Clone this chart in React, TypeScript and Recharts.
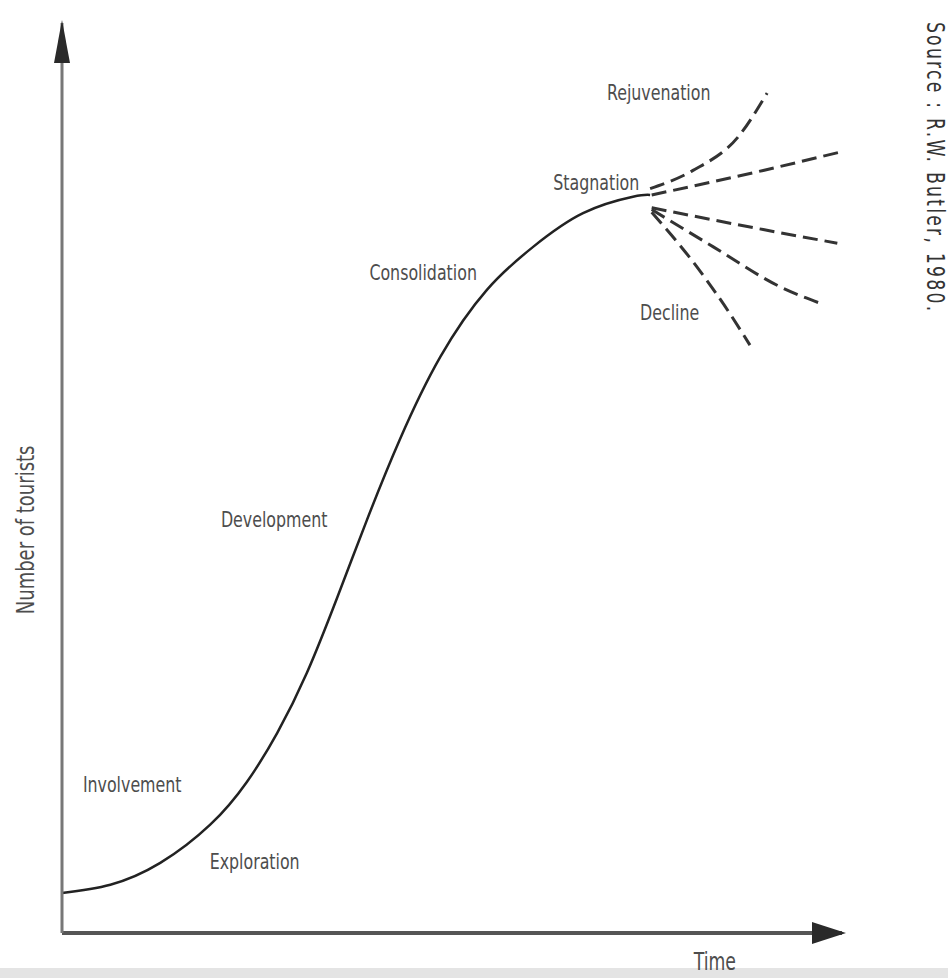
import React from "react";
import { LineChart, Line, XAxis, YAxis, ReferenceDot } from "recharts";

// Butler tourist area life cycle (time 0-100, tourists 0-100)
const mainCurve = [
  { t: 0, n: 4.4 },
  { t: 6.2, n: 5.3 },
  { t: 12.6, n: 7.7 },
  { t: 19.0, n: 11.9 },
  { t: 23.7, n: 16.6 },
  { t: 27.6, n: 22.0 },
  { t: 31.4, n: 28.6 },
  { t: 35.3, n: 36.9 },
  { t: 39.1, n: 45.4 },
  { t: 43.3, n: 54.2 },
  { t: 48.5, n: 63.3 },
  { t: 54.5, n: 70.7 },
  { t: 60.4, n: 75.4 },
  { t: 66.8, n: 79.1 },
  { t: 73.2, n: 80.9 },
  { t: 75.4, n: 81.1 },
];

const rejuvenation = [
  { t: 75.4, n: 81.8 },
  { t: 80.9, n: 83.8 },
  { t: 86.7, n: 87.5 },
  { t: 90.4, n: 92.3 },
];
const growthOn = [
  { t: 75.6, n: 81.1 },
  { t: 89.9, n: 83.8 },
  { t: 99.7, n: 85.8 },
];
const slightDecline = [
  { t: 75.6, n: 79.7 },
  { t: 89.9, n: 77.3 },
  { t: 99.4, n: 75.8 },
];
const decline = [
  { t: 75.6, n: 79.5 },
  { t: 83.5, n: 75.4 },
  { t: 92.1, n: 71.0 },
  { t: 97.2, n: 69.2 },
];
const steepDecline = [
  { t: 75.6, n: 79.2 },
  { t: 81.4, n: 73.2 },
  { t: 85.6, n: 68.1 },
  { t: 88.2, n: 64.6 },
];
const scenarios = [rejuvenation, growthOn, slightDecline, decline, steepDecline];

const stageLabels = [
  { text: "Rejuvenation", t: 76.5, n: 92.3 },
  { text: "Stagnation", t: 68.5, n: 82.4 },
  { text: "Consolidation", t: 46.3, n: 72.6 },
  { text: "Decline", t: 77.9, n: 68.2 },
  { text: "Development", t: 27.2, n: 45.4 },
  { text: "Involvement", t: 9.0, n: 16.3 },
  { text: "Exploration", t: 24.7, n: 7.8 },
];

const FONT = "'DejaVu Sans Condensed', 'DejaVu Sans', sans-serif";
const TEXT_COLOR = "#4d4d4d";

// narrow, tall lettering like the printed figure
function narrowLabel(value: string, fontSize: number, angle = 0, letterSpacing = 0, fill = TEXT_COLOR) {
  return {
    content: (props: any) => {
      const vb = props.viewBox || { x: 0, y: 0, width: 0, height: 0 };
      const cx = vb.x + (vb.width || 0) / 2;
      const cy = vb.y + (vb.height || 0) / 2;
      return (
        <text
          transform={`translate(${cx},${cy}) rotate(${angle}) scale(0.8,1)`}
          textAnchor="middle"
          dominantBaseline="central"
          fill={fill}
          fontFamily={FONT}
          fontSize={fontSize}
          letterSpacing={letterSpacing}
        >
          {value}
        </text>
      );
    },
  };
}

export default function App() {
  return (
    <div style={{ position: "absolute", left: 0, top: 0, width: 948, height: 978, background: "#fff" }}>
      <div style={{ position: "absolute", left: 0, top: 968, width: 948, height: 10, background: "#e4e4e4" }} />
      <div style={{ position: "absolute", left: 0, top: 0 }}>
        <LineChart width={948} height={978} margin={{ top: 23, right: 106, bottom: 44, left: 61 }}>
          <defs>
            <marker
              id="arrowX"
              markerUnits="userSpaceOnUse"
              markerWidth={34}
              markerHeight={22}
              viewBox="0 0 34 22"
              refX={30}
              refY={11}
              orient="auto"
            >
              <path d="M0,0 L34,11 L0,22 Z" fill="#2a2a2a" />
            </marker>
            <marker
              id="arrowY"
              markerUnits="userSpaceOnUse"
              markerWidth={43}
              markerHeight={16}
              viewBox="0 0 43 16"
              refX={40}
              refY={8}
              orient="auto-start-reverse"
            >
              <path d="M0,0 L43,8 L0,16 Z" fill="#2a2a2a" />
            </marker>
          </defs>
          <XAxis
            type="number"
            dataKey="t"
            domain={[0, 100]}
            height={1}
            tick={false}
            tickLine={false}
            axisLine={{ stroke: "#555", strokeWidth: 4, markerEnd: "url(#arrowX)" }}
          />
          <YAxis
            type="number"
            dataKey="n"
            domain={[0, 100]}
            width={1}
            tick={false}
            tickLine={false}
            axisLine={{ stroke: "#777", strokeWidth: 3, markerStart: "url(#arrowY)" }}
          />
          <Line
            data={mainCurve}
            dataKey="n"
            type="natural"
            stroke="#222"
            strokeWidth={2.5}
            dot={false}
            isAnimationActive={false}
          />
          {scenarios.map((s, i) => (
            <Line
              key={i}
              data={s}
              dataKey="n"
              type="monotone"
              stroke="#333"
              strokeWidth={3}
              strokeDasharray="15 7"
              dot={false}
              isAnimationActive={false}
            />
          ))}
          {stageLabels.map((l) => (
            <ReferenceDot
              key={l.text}
              x={l.t}
              y={l.n}
              r={0}
              fill="none"
              stroke="none"
              label={narrowLabel(l.text, 22)}
            />
          ))}
          <ReferenceDot x={83.7} y={-3.2} r={0} fill="none" stroke="none" ifOverflow="visible" label={narrowLabel("Time", 24)} />
          <ReferenceDot
            x={-4.7}
            y={44.3}
            r={0}
            fill="none"
            stroke="none"
            ifOverflow="visible"
            label={narrowLabel("Number of tourists", 25, -90)}
          />
          <ReferenceDot
            x={111.9}
            y={84.1}
            r={0}
            fill="none"
            stroke="none"
            ifOverflow="visible"
            label={narrowLabel("Source : R.W. Butler, 1980.", 24, 90, 2.8, "#333")}
          />
        </LineChart>
      </div>
    </div>
  );
}
